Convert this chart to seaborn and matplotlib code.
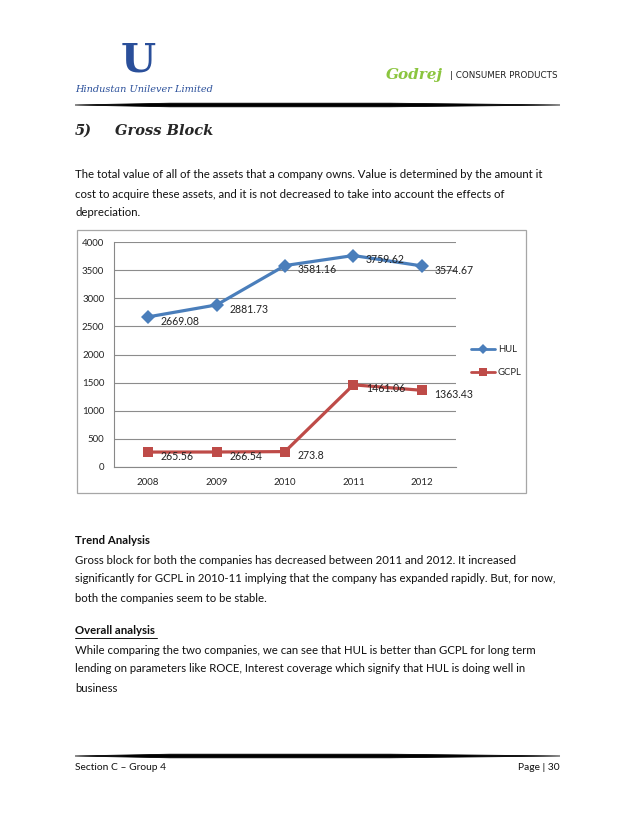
import pandas as pd
import matplotlib.pyplot as plt
import seaborn as sns
from matplotlib.patches import Rectangle, Polygon
from matplotlib.lines import Line2D

# data
years = ['2008', '2009', '2010', '2011', '2012']
hul = [2669.08, 2881.73, 3581.16, 3759.62, 3574.67]
gcpl = [265.56, 266.54, 273.8, 1461.06, 1363.43]
hul_labels = ['2669.08', '2881.73', '3581.16', '3759.62', '3574.67']
gcpl_labels = ['265.56', '266.54', '273.8', '1461.06', '1363.43']
y_ticks = [0, 500, 1000, 1500, 2000, 2500, 3000, 3500, 4000]

df = pd.DataFrame({
    'Year': years * 2,
    'Value': hul + gcpl,
    'Company': ['HUL'] * 5 + ['GCPL'] * 5,
})
df['pos'] = [0, 1, 2, 3, 4] * 2

W, H = 638, 826
sns.set_style('white')
plt.rcParams['font.family'] = ['Lato', 'DejaVu Sans']

fig = plt.figure(figsize=(W / 100, H / 100), dpi=100)
fig.patch.set_facecolor('white')


def fx(x):
    return x / W


def fy(y):
    return 1 - y / H


def page_text(x, y, s, **kw):
    fig.text(fx(x), fy(y), s, va='center', **kw)


def rule(y, x0=75, x1=560):
    # tapered horizontal rule, thick in the middle
    pts = [(x0, y), (170, y - 1.8), (390, y - 1.8), (x1, y),
           (390, y + 1.8), (170, y + 1.8)]
    fig.patches.append(Polygon([(fx(a), fy(b)) for a, b in pts], closed=True,
                               transform=fig.transFigure, color='black', lw=0.6))


# header
page_text(138, 60, 'U', ha='center', fontsize=29, fontweight='bold', color='#2a4f9a', family='DejaVu Serif')
page_text(75, 90, 'Hindustan Unilever Limited', ha='left', fontsize=7, style='italic', color='#2a4f9a',
          family='DejaVu Serif')
page_text(386, 75, 'Godrej', ha='left', fontsize=11, style='italic', fontweight='bold', color='#8bc53f',
          family='DejaVu Serif')
page_text(450, 75, '| CONSUMER PRODUCTS', ha='left', fontsize=6.3, color='#222222', family='DejaVu Sans')
rule(105)

# title and intro text
page_text(75, 131, '5)', ha='left', fontsize=10.5, style='italic', fontweight='bold', family='DejaVu Serif')
page_text(115, 131, 'Gross Block', ha='left', fontsize=10.5, style='italic', fontweight='bold',
          family='DejaVu Serif')
intro = ['The total value of all of the assets that a company owns. Value is determined by the amount it',
         'cost to acquire these assets, and it is not decreased to take into account the effects of',
         'depreciation.']
for i, line in enumerate(intro):
    page_text(75, 175 + i * 19, line, ha='left', fontsize=8.2, color='#111111')

# chart frame
fig.patches.append(Rectangle((fx(77), fy(493)), fx(526) - fx(77), fy(230) - fy(493),
                             transform=fig.transFigure, fill=False, ec='#a6a6a6', lw=0.9))

ax = fig.add_axes([fx(114), fy(467), fx(456) - fx(114), fy(242) - fy(467)])
palette = {'HUL': '#4a7ebb', 'GCPL': '#be4b48'}
sns.lineplot(data=df, x='pos', y='Value', hue='Company', style='Company', palette=palette,
             markers={'HUL': 'D', 'GCPL': 's'}, dashes=False, lw=2.3, markersize=7,
             markeredgewidth=0, legend=False, ax=ax)
ax.set_xlim(-0.5, 4.5)
ax.set_ylim(0, 4000)
ax.set_yticks(y_ticks)
ax.set_xticks(range(5))
ax.set_xticklabels(years)
ax.set_xticks([-0.5, 0.5, 1.5, 2.5, 3.5, 4.5], minor=True)
ax.tick_params(axis='x', which='major', length=0, labelsize=7, pad=8)
ax.tick_params(axis='x', which='minor', length=4, color='#888888', direction='out')
ax.tick_params(axis='y', length=4, color='#888888', direction='out', labelsize=7, pad=3)
ax.set_xlabel('')
ax.set_ylabel('')
ax.grid(axis='y', color='#8c8c8c', lw=0.8)
ax.set_axisbelow(True)
for side in ['top', 'right']:
    ax.spines[side].set_visible(False)
for side in ['left', 'bottom']:
    ax.spines[side].set_color('#888888')
    ax.spines[side].set_linewidth(0.8)

for i, (v, s) in enumerate(zip(hul, hul_labels)):
    ax.annotate(s, (i, v), xytext=(9, -3), textcoords='offset points', ha='left', va='center',
                fontsize=7.6, color='#222222')
for i, (v, s) in enumerate(zip(gcpl, gcpl_labels)):
    ax.annotate(s, (i, v), xytext=(9, -3), textcoords='offset points', ha='left', va='center',
                fontsize=7.6, color='#222222')

handles = [Line2D([], [], color=palette['HUL'], marker='D', lw=2, markersize=5, markeredgewidth=0),
           Line2D([], [], color=palette['GCPL'], marker='s', lw=2, markersize=6, markeredgewidth=0)]
fig.legend(handles, ['HUL', 'GCPL'], loc='center left', bbox_to_anchor=(fx(462), fy(361)),
           frameon=False, fontsize=6.8, handlelength=2.6, labelspacing=1.5, handletextpad=0.3)

# analysis text
page_text(75, 541, 'Trend Analysis', ha='left', fontsize=8.2, fontweight='bold', color='#111111')
trend = ['Gross block for both the companies has decreased between 2011 and 2012. It increased',
         'significantly for GCPL in 2010-11 implying that the company has expanded rapidly. But, for now,',
         'both the companies seem to be stable.']
for i, line in enumerate(trend):
    page_text(75, 560 + i * 19, line, ha='left', fontsize=8.2, color='#111111')

page_text(75, 631, 'Overall analysis', ha='left', fontsize=8.2, fontweight='bold', color='#111111')
fig.add_artist(Line2D([fx(75), fx(157)], [fy(638), fy(638)], transform=fig.transFigure, color='#111111', lw=0.7))
overall = ['While comparing the two companies, we can see that HUL is better than GCPL for long term',
           'lending on parameters like ROCE, Interest coverage which signify that HUL is doing well in',
           'business']
for i, line in enumerate(overall):
    page_text(75, 650 + i * 19, line, ha='left', fontsize=8.2, color='#111111')

# footer
rule(756)
page_text(75, 768, 'Section C \u2013 Group 4', ha='left', fontsize=7.4, color='#111111')
page_text(560, 768, 'Page | 30', ha='right', fontsize=7.4, color='#111111')

fig.savefig('out.png', dpi=100, facecolor='white')
